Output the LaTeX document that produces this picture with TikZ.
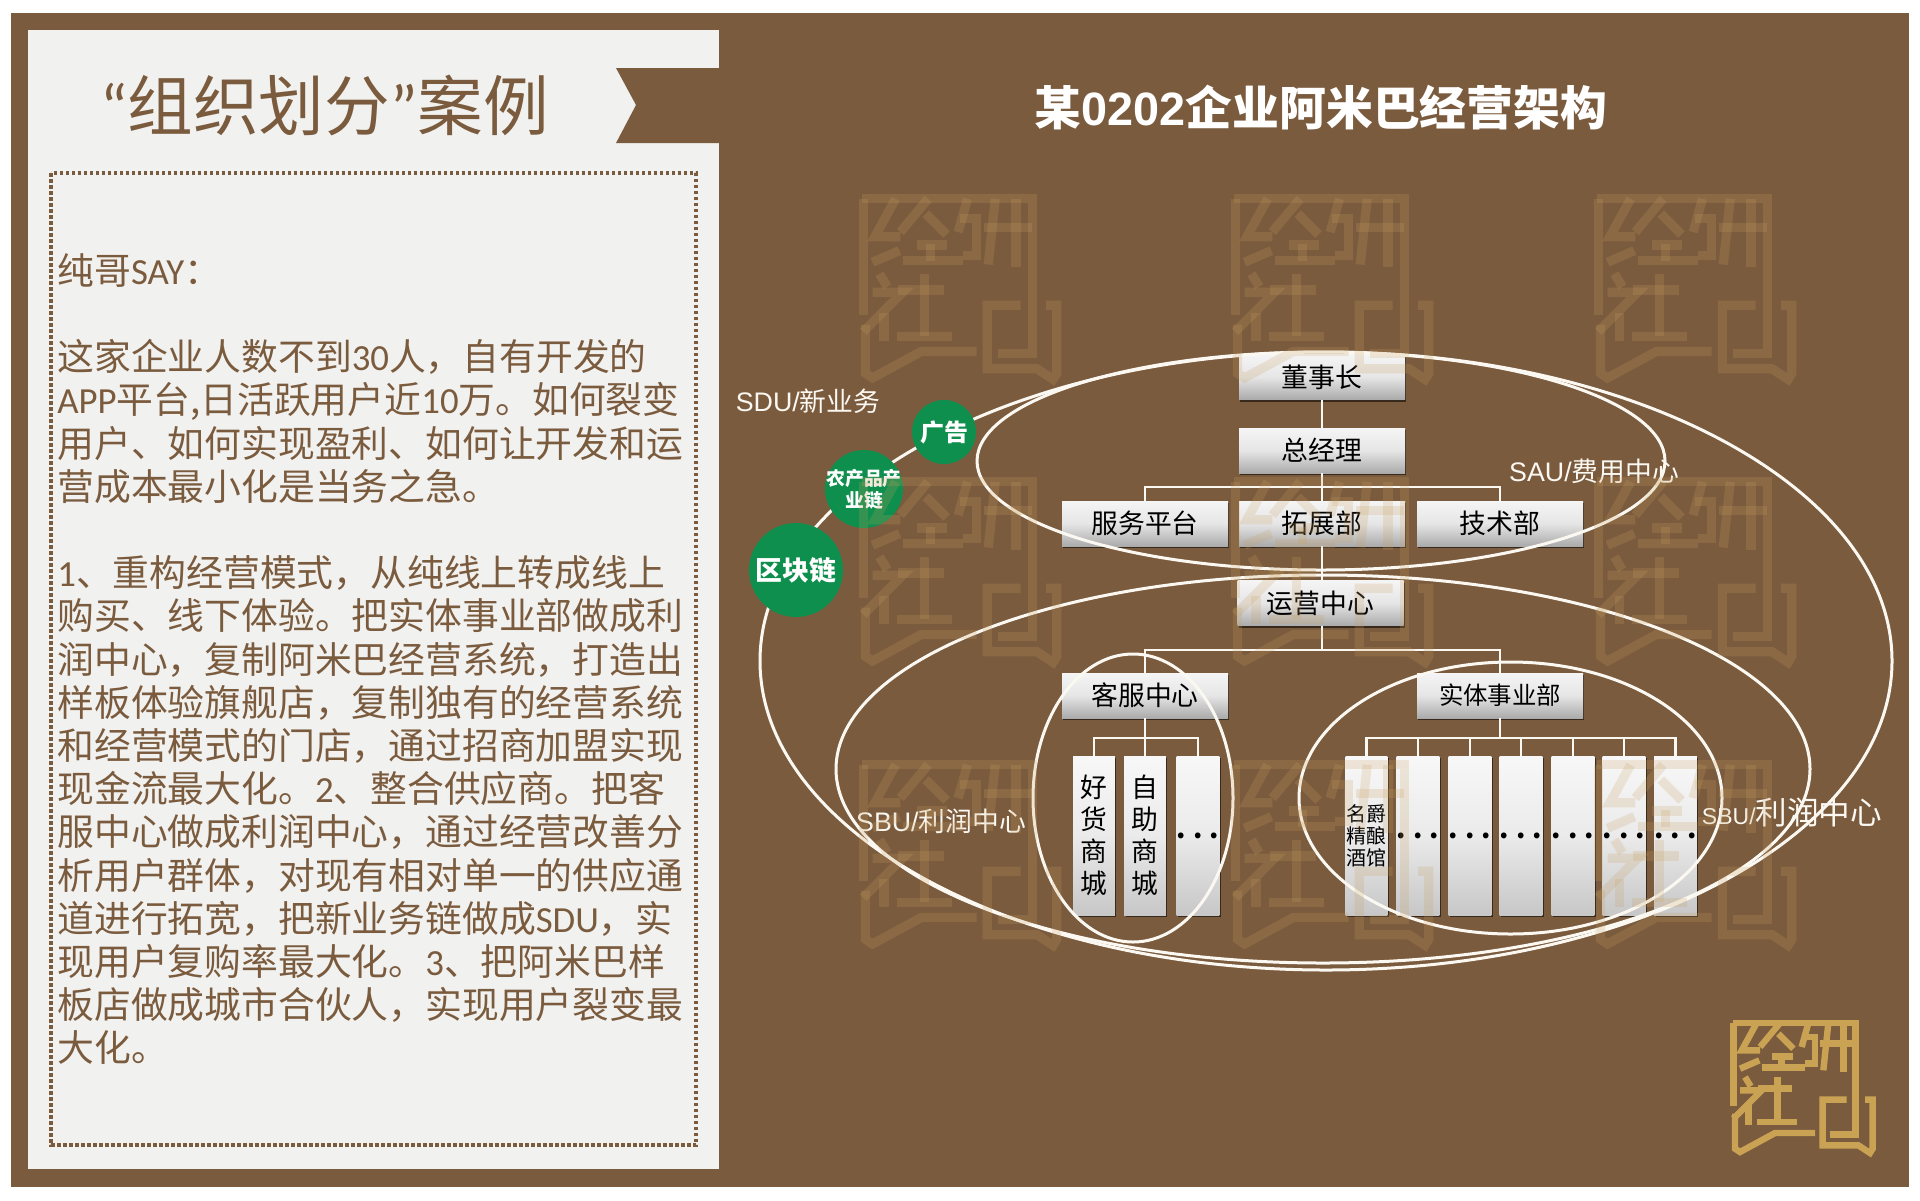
\documentclass[tikz,border=0pt]{standalone}
\usepackage{fontspec}
\setmainfont{Noto Sans CJK SC}
\newfontfamily\bodylat{Carlito}
\newfontfamily\labellat{Liberation Sans}
\newcommand{\lat}[1]{{\bodylat #1}}
\newcommand{\tag}[1]{{\labellat #1}}
\newcommand{\threedots}{\textbf{.\hspace{3.6pt}.\hspace{3.6pt}.}}
\usetikzlibrary{calc,shadows}
\definecolor{barkbrown}{HTML}{7B5B3E}
\definecolor{paperwhite}{HTML}{F1F1EF}
\definecolor{leafgreen}{HTML}{0F8F4E}
\definecolor{creamline}{HTML}{FBF8F2}
\definecolor{goldmark}{HTML}{C9A253}
\definecolor{waterbrown}{HTML}{C8A060}

\tikzset{logomark/.pic={
  \draw (5,6) -- (373,6) -- (373,340) -- (297,340);
  \draw (7,6) -- (7,256);
  \draw (77,6) -- (32,88) -- (87,88);
  \draw (27,143) -- (85,118);
  \draw (147,6) -- (87,78);
  \draw (142,38) -- (187,83);
  \draw (92,140) -- (222,140);
  \draw (152,103) -- (152,140);
  \draw (122,106) -- (187,106);
  \draw (232,6) -- (212,78);
  \draw (217,48) -- (252,48) -- (252,128) -- (222,128);
  \draw (267,68) -- (372,68);
  \draw (292,6) -- (277,148);
  \draw (337,6) -- (337,153);
  \draw (42,168) -- (59,196);
  \draw (27,208) -- (92,208) -- (7,293);
  \draw (52,253) -- (52,313);
  \draw (82,203) -- (182,203);
  \draw (139,168) -- (139,303);
  \draw (79,303) -- (199,303);
  \draw (12,278) -- (12,383) -- (27,393) -- (132,336) -- (252,336);
  \draw (402,236) -- (425,236) -- (425,383) -- (417,396) -- (382,373) -- (275,373) -- (275,236) -- (347,236);
}}

\begin{document}
\begin{tikzpicture}[x=0.5pt,y=-0.5pt]
  \tikzstyle{orgbox} = [inner sep=0pt,text=black,top color=white!96!black,bottom color=black!33,middle color=white!90!black,
    drop shadow={shadow xshift=0.7pt,shadow yshift=-1pt,fill=black,opacity=0.55},
    font=\fontsize{13.4pt}{16pt}\selectfont]
  \tikzstyle{wide box} = [orgbox,minimum width=83pt,minimum height=22.5pt]
  \tikzstyle{tall box} = [orgbox,minimum width=20.8pt,minimum height=79.5pt,align=center,
    top color=white!97!black,bottom color=black!22,middle color=white!92!black,font=\fontsize{13.4pt}{16pt}\selectfont]
  \tikzstyle{link} = [draw=creamline,line width=1.35pt]
  \tikzstyle{zone} = [draw=creamline,line width=1.5pt]
  \tikzstyle{zone label} = [text=creamline,inner sep=0pt,font=\fontsize{13.4pt}{16pt}\selectfont]
  \tikzstyle{bubble} = [circle,fill=leafgreen,text=white,inner sep=0pt,align=center]

  \useasboundingbox (0,0) rectangle (1920,1200);
  \fill[barkbrown] (11,13) rectangle (1909,1187);
  \fill[paperwhite] (28,30) rectangle (719,1169);
  \fill[barkbrown] (616,68) -- (719,68) -- (719,143) -- (616,143) -- (636,105) -- cycle;
  \draw[barkbrown,line width=1.75pt,dash pattern=on 1.75pt off 1.25pt] (51,173) rectangle (696,1145);

  \node[text=barkbrown,inner sep=0pt,font=\fontsize{32.8pt}{38pt}\selectfont] (caseTitle) at (324.5,105)
    {\lat{“}组织划分\lat{”}案例};
  \node[anchor=north west,text=barkbrown,inner sep=0pt,align=left,
    font=\fontsize{18.4pt}{21.6pt}\selectfont] (sayText) at (57,253) {%
    纯哥\lat{SAY}：\\
    \mbox{}\\
    这家企业人数不到\lat{30}人，自有开发的\\
    \lat{APP}平台,日活跃用户近\lat{10}万。如何裂变\\
    用户、如何实现盈利、如何让开发和运\\
    营成本最小化是当务之急。\\
    \mbox{}\\
    \lat{1}、重构经营模式，从纯线上转成线上\\
    购买、线下体验。把实体事业部做成利\\
    润中心，复制阿米巴经营系统，打造出\\
    样板体验旗舰店，复制独有的经营系统\\
    和经营模式的门店，通过招商加盟实现\\
    现金流最大化。\lat{2}、整合供应商。把客\\
    服中心做成利润中心，通过经营改善分\\
    析用户群体，对现有相对单一的供应通\\
    道进行拓宽，把新业务链做成\lat{SDU}，实\\
    现用户复购率最大化。\lat{3}、把阿米巴样\\
    板店做成城市合伙人，实现用户裂变最\\
    大化。};

  \node[text=white,inner sep=0pt,font=\bfseries\fontsize{23.4pt}{28pt}\selectfont] (archTitle) at (1321,108)
    {某\tag{0202}企业阿米巴经营架构};

  \node[wide box] (chairman) at (1322,377) {董事长};
  \node[wide box] (manager) at (1322,450.5) {总经理};
  \node[wide box] (service) at (1145,523.5) {服务平台};
  \node[wide box] (expand) at (1322,523.5) {拓展部};
  \node[wide box] (tech) at (1500,523.5) {技术部};
  \node[wide box] (operate) at (1320.5,603) {运营中心};
  \node[wide box] (support) at (1145,695.5) {客服中心};
  \node[wide box,font=\fontsize{12.2pt}{15pt}\selectfont] (entity) at (1500,695.5) {实体事业部};

  \node[tall box] (shopA) at (1094,835.5) {好\\货\\商\\城};
  \node[tall box] (shopB) at (1145,835.5) {自\\助\\商\\城};
  \node[tall box] (shopC) at (1198,835.5) {\threedots};
  \node[tall box,font=\fontsize{10pt}{11pt}\selectfont] (unitA) at (1366.5,835.5) {名爵\\精酿\\酒馆};
  \node[tall box] (unitB) at (1418,835.5) {\threedots};
  \node[tall box] (unitC) at (1470,835.5) {\threedots};
  \node[tall box] (unitD) at (1521,835.5) {\threedots};
  \node[tall box] (unitE) at (1573,835.5) {\threedots};
  \node[tall box] (unitF) at (1624,835.5) {\threedots};
  \node[tall box] (unitG) at (1675.5,835.5) {\threedots};

  \coordinate (busTop) at ($(manager.south)!0.5!(expand.north)$);
  \coordinate (busMid) at (1322,650);
  \coordinate (busLeft) at (1145,738);
  \coordinate (busRight) at (1500,738);
  \draw[link] (chairman) -- (manager);
  \draw[link] (manager) -- (expand);
  \draw[link] (service.north) |- (busTop) -| (tech.north);
  \draw[link] (expand.south) -- (expand.south |- operate.north);
  \draw[link] (busMid |- operate.south) -- (busMid);
  \draw[link] (support.north) |- (busMid) -| (entity.north);
  \draw[link] (support) -- (shopB);
  \draw[link] (shopA.north) |- (busLeft) -| (shopC.north);
  \draw[link] (entity) -- (busRight);
  \draw[link] (unitA.north) |- (busRight) -| (unitG.north);
  \foreach \unit in {unitB,unitC,unitD,unitE,unitF}
    \draw[link] (\unit.north) -- (\unit.north |- busRight);

  \draw[zone] (1326,661) ellipse (566 and 309);
  \draw[zone] (1321,461) ellipse (344 and 109);
  \draw[zone] (1323,769) ellipse (487 and 194);
  \draw[zone] (1133,798) ellipse (100 and 144);
  \draw[zone] (1510.5,798) ellipse (211.5 and 136);

  \node[zone label] (sduTag) at (808,401) {\tag{SDU/}新业务};
  \node[zone label] (sauTag) at (1594,471) {\tag{SAU/}费用中心};
  \node[zone label] (sbuLeft) at (941,821) {\tag{SBU/}利润中心};
  \node[zone label,font=\fontsize{15.8pt}{18pt}\selectfont] (sbuRight) at (1792,812) {{\fontsize{11.5pt}{14pt}\selectfont\tag{SBU/}}利润中心};

  \node[bubble,minimum size=47pt,font=\bfseries\fontsize{13.4pt}{16pt}\selectfont] (chain) at (796,570) {\raisebox{1pt}{区块链}};
  \node[bubble,minimum size=39pt,font=\bfseries\fontsize{9.4pt}{11pt}\selectfont] (farm) at (864,489) {\makebox[0pt]{农产品产}\\\makebox[0pt]{业链}};
  \node[bubble,minimum size=32pt,font=\bfseries\fontsize{12pt}{14pt}\selectfont] (ads) at (944,432) {广告};

  \foreach \mx in {860,1232,1595}
    \foreach \my in {196,479,762}
      \pic[scale=0.463,draw=waterbrown,draw opacity=0.21,line width=4.6pt] at (\mx,\my) {logomark};
  \pic[scale=0.3333,draw=goldmark,line width=3.2pt] at (1731,1021) {logomark};
\end{tikzpicture}
\end{document}
